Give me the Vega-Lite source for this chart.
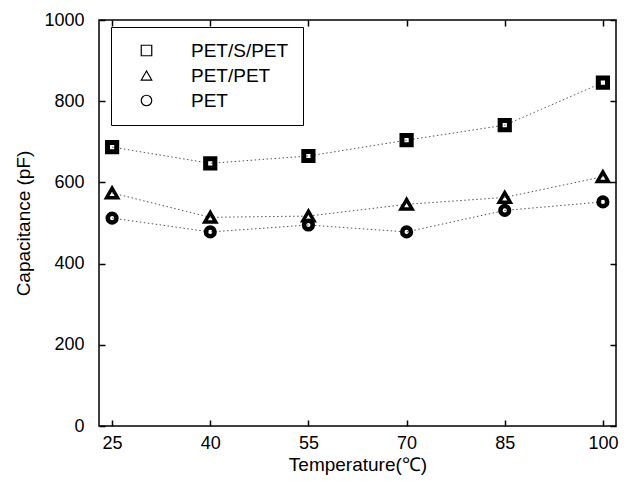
{
  "$schema": "https://vega.github.io/schema/vega-lite/v6.json",
  "autosize": "none",
  "width": 517,
  "height": 406,
  "padding": {"left": 99, "top": 20, "right": 11, "bottom": 55},
  "background": "white",
  "config": {
    "font": "Liberation Sans",
    "view": {"stroke": "black", "strokeWidth": 1.5},
    "axis": {"grid": false, "domain": false, "ticks": true, "tickColor": "black", "tickWidth": 1.5, "tickOpacity": 1, "labelColor": "black", "titleColor": "black", "labelFont": "Liberation Sans", "titleFont": "Liberation Sans", "titleFontWeight": "normal"}
  },
  "data": {
    "values": [
      {"t": 25, "c": 687, "s": "PET/S/PET"},
      {"t": 40, "c": 647, "s": "PET/S/PET"},
      {"t": 55, "c": 665, "s": "PET/S/PET"},
      {"t": 70, "c": 704, "s": "PET/S/PET"},
      {"t": 85, "c": 741, "s": "PET/S/PET"},
      {"t": 100, "c": 846, "s": "PET/S/PET"},
      {"t": 25, "c": 574, "s": "PET/PET"},
      {"t": 40, "c": 514, "s": "PET/PET"},
      {"t": 55, "c": 517, "s": "PET/PET"},
      {"t": 70, "c": 546, "s": "PET/PET"},
      {"t": 85, "c": 563, "s": "PET/PET"},
      {"t": 100, "c": 614, "s": "PET/PET"},
      {"t": 25, "c": 512, "s": "PET"},
      {"t": 40, "c": 478, "s": "PET"},
      {"t": 55, "c": 495, "s": "PET"},
      {"t": 70, "c": 478, "s": "PET"},
      {"t": 85, "c": 531, "s": "PET"},
      {"t": 100, "c": 552, "s": "PET"}
    ]
  },
  "layer": [
    {
      "mark": {"type": "line", "color": "#555", "strokeWidth": 1, "strokeDash": [1.5, 2.5]},
      "encoding": {
        "x": {"field": "t", "type": "quantitative", "scale": {"domain": [23, 102], "nice": false, "zero": false},
              "axis": {"orient": "bottom", "values": [25, 40, 55, 70, 85, 100], "tickSize": -6, "labelPadding": 14, "labelFontSize": 18, "title": "Temperature(℃)", "titleFontSize": 19, "titlePadding": 3}},
        "y": {"field": "c", "type": "quantitative", "scale": {"domain": [0, 1000], "nice": false},
              "axis": {"orient": "left", "values": [0, 200, 400, 600, 800, 1000], "format": "d", "tickSize": -6, "labelPadding": 21, "labelFontSize": 18, "title": "Capacitance (pF)", "titleFontSize": 19, "titlePadding": 10}},
        "detail": {"field": "s"}
      }
    },
    {
      "transform": [{"filter": "datum.s === 'PET/S/PET'"}],
      "mark": {"type": "point", "filled": false, "color": "black", "opacity": 1, "size": 85, "strokeWidth": 5},
      "encoding": {
        "x": {"field": "t", "type": "quantitative", "axis": {"orient": "top", "values": [25, 40, 55, 70, 85, 100], "tickSize": -6, "labels": false, "title": null}},
        "y": {"field": "c", "type": "quantitative", "axis": {"orient": "right", "values": [0, 200, 400, 600, 800, 1000], "tickSize": -6, "labels": false, "title": null}},
        "shape": {"field": "s", "type": "nominal",
                  "scale": {"domain": ["PET/S/PET", "PET/PET", "PET"], "range": ["square", "triangle-up", "circle"]},
                  "legend": {"title": null, "orient": "none", "legendX": 12, "legendY": 7,
                             "strokeColor": "black", "fillColor": "white",
                             "padding": 14, "symbolOffset": 12, "labelOffset": 35, "labelFontSize": 19, "labelColor": "black",
                             "rowPadding": 5, "symbolSize": 110, "symbolStrokeWidth": 1.2, "symbolStrokeColor": "black"}}
      }
    },
    {
      "transform": [{"filter": "datum.s === 'PET/PET'"}],
      "mark": {"type": "point", "filled": false, "color": "black", "opacity": 1, "size": 120, "strokeWidth": 3.5},
      "encoding": {
        "x": {"field": "t", "type": "quantitative", "axis": null},
        "y": {"field": "c", "type": "quantitative", "axis": null},
        "shape": {"field": "s", "type": "nominal"}
      }
    },
    {
      "transform": [{"filter": "datum.s === 'PET'"}],
      "mark": {"type": "point", "filled": false, "color": "black", "opacity": 1, "size": 75, "strokeWidth": 4.5},
      "encoding": {
        "x": {"field": "t", "type": "quantitative", "axis": null},
        "y": {"field": "c", "type": "quantitative", "axis": null},
        "shape": {"field": "s", "type": "nominal"}
      }
    }
  ],
  "resolve": {"axis": {"x": "independent", "y": "independent"}}
}
